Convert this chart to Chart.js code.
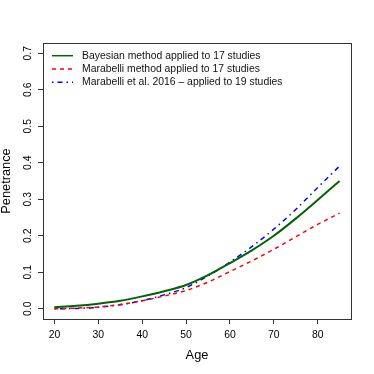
<!DOCTYPE html>
<html>
<head>
<meta charset="utf-8">
<script src="https://cdn.jsdelivr.net/npm/chart.js@4.4.0/dist/chart.umd.min.js"></script>
<style>
  html, body { margin: 0; padding: 0; background: #fff; }
  #wrap { width: 374px; height: 374px; }
</style>
</head>
<body>
<div id="wrap"><canvas id="penChart" width="374" height="374"></canvas></div>
<script>
var ages = [20, 25, 30, 35, 40, 45, 50, 55, 60, 65, 70, 75, 80, 85];
var bayesian17 = [0.004, 0.008, 0.014, 0.022, 0.034, 0.048, 0.065, 0.092, 0.125, 0.160, 0.200, 0.247, 0.298, 0.350];
var marabelli17 = [0.000, 0.002, 0.005, 0.012, 0.022, 0.035, 0.050, 0.073, 0.102, 0.131, 0.163, 0.197, 0.231, 0.262];
var marabelli19 = [0.000, 0.001, 0.004, 0.011, 0.022, 0.038, 0.058, 0.090, 0.128, 0.170, 0.218, 0.272, 0.332, 0.391];
var seriesLabels = [
  "Bayesian method applied to 17 studies",
  "Marabelli method applied to 17 studies",
  "Marabelli et al. 2016 \u2013 applied to 19 studies"
];
var xTicks = [20, 30, 40, 50, 60, 70, 80];
var yTicks = [0.0, 0.1, 0.2, 0.3, 0.4, 0.5, 0.6, 0.7];

var FONT = "'Liberation Sans', Arial, Helvetica, sans-serif";

function pts(vals) {
  return ages.map(function (a, i) { return { x: a, y: vals[i] }; });
}

// R-like box, y tick labels and legend
var rStyle = {
  id: 'rStyle',
  afterDraw: function (chart) {
    var ctx = chart.ctx;
    var a = chart.chartArea;
    ctx.save();
    ctx.strokeStyle = '#333';
    ctx.lineWidth = 1;
    ctx.setLineDash([]);
    ctx.strokeRect(Math.round(a.left) + 0.5, Math.round(a.top) + 0.5,
      Math.round(a.right - a.left), Math.round(a.bottom - a.top));

    // y tick labels, rotated like R's las=0
    var ys = chart.scales.y;
    ctx.fillStyle = '#000';
    ctx.font = '10.4px ' + FONT;
    ctx.textAlign = 'center';
    ctx.textBaseline = 'middle';
    ys.ticks.forEach(function (t) {
      var py = ys.getPixelForValue(t.value);
      ctx.save();
      ctx.translate(28.5, py);
      ctx.rotate(-Math.PI / 2);
      ctx.fillText(t.value.toFixed(1), 0, 0);
      ctx.restore();
    });

    // legend, top left inside the plot
    chart.data.datasets.forEach(function (ds, i) {
      var y = 55.7 + i * 13.3;
      ctx.beginPath();
      ctx.strokeStyle = ds.borderColor;
      ctx.lineWidth = 1.5;
      ctx.setLineDash(ds.borderDash || []);
      ctx.moveTo(a.left + 9, y);
      ctx.lineTo(a.left + 30, y);
      ctx.stroke();
      ctx.setLineDash([]);
      ctx.fillStyle = '#111';
      ctx.textAlign = 'left';
      ctx.fillText(ds.label, a.left + 39, y);
    });
    ctx.restore();
  }
};

var penChart = new Chart('penChart', {
  type: 'line',
  data: {
    datasets: [{
      label: seriesLabels[0],
      data: pts(bayesian17),
      borderColor: '#006400',
      borderWidth: 2,
      borderDash: [],
    }, {
      label: seriesLabels[1],
      data: pts(marabelli17),
      borderColor: '#ff0000',
      borderWidth: 1.5,
      borderDash: [4, 4],
    }, {
      label: seriesLabels[2],
      data: pts(marabelli19),
      borderColor: '#0000ff',
      borderWidth: 1.5,
      borderDash: [1.5, 4, 5, 4],
    }]
  },
  options: {
    responsive: false,
    animation: false,
    devicePixelRatio: 1,
    layout: { padding: { left: 0, top: 43, right: 23, bottom: 0 } },
    elements: {
      point: { radius: 0 },
      line: { cubicInterpolationMode: 'monotone', fill: false }
    },
    plugins: {
      legend: { display: false },
      tooltip: { enabled: false }
    },
    scales: {
      x: {
        type: 'linear',
        min: 17.4,
        max: 87.6,
        afterBuildTicks: function (s) { s.ticks = xTicks.map(function (v) { return { value: v }; }); },
        afterFit: function (s) { s.height = 55; },
        grid: { drawOnChartArea: false, drawTicks: true, tickLength: 5, color: '#333' },
        border: { display: false },
        ticks: {
          color: '#000',
          padding: 4.5,
          maxRotation: 0,
          font: { family: FONT, size: 10.4 },
          callback: function (v) { return String(v); }
        },
        title: {
          display: true,
          text: 'Age',
          color: '#000',
          font: { family: FONT, size: 12.8, lineHeight: 1.2 },
          padding: { top: 0, bottom: 10.5 }
        }
      },
      y: {
        min: -0.028,
        max: 0.728,
        afterBuildTicks: function (s) { s.ticks = yTicks.map(function (v) { return { value: v }; }); },
        afterFit: function (s) { s.width = 43; },
        grid: { drawOnChartArea: false, drawTicks: true, tickLength: 5, color: '#333' },
        border: { display: false },
        ticks: { display: false },
        title: {
          display: true,
          text: 'Penetrance',
          color: '#000',
          font: { family: FONT, size: 12.8, lineHeight: 1 },
          padding: { top: 0, bottom: 0 }
        }
      }
    }
  },
  plugins: [rStyle]
});
</script>
</body>
</html>
